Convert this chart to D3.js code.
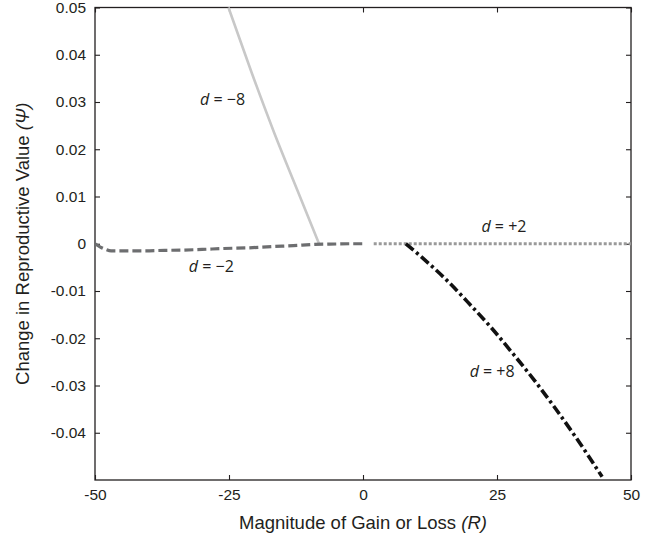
<!DOCTYPE html>
<html><head><meta charset="utf-8">
<script src="https://cdn.jsdelivr.net/npm/d3@7"></script>
<style>body{margin:0;background:#fff}svg{display:block}</style>
</head><body>
<svg id="chart" width="654" height="536"></svg>
<script>
const xTicks = [-50, -25, 0, 25, 50];
const yTicks = [0.05, 0.04, 0.03, 0.02, 0.01, 0, -0.01, -0.02, -0.03, -0.04];

const seriesM8R = [-25.1, -20.8, -16.5, -12.3, -8.2];
const seriesM8V = [0.05, 0.0363, 0.0233, 0.0115, 0];

const seriesM2R = [-50, -49, -48, -47, -44, -41, -37, -34, -30, -26, -21.5, -17, -13, -9.2, -5, -2.3, 0];
const seriesM2V = [0, -0.0007, -0.0012, -0.0015, -0.0015, -0.0015, -0.0014, -0.00135, -0.0012, -0.001, -0.00087, -0.0006, -0.0004, -0.00015, -0.00005, 0, 0];

const seriesP2R = [2, 10, 20, 30, 40, 48, 50];
const seriesP2V = [0, 0, 0, 0, 0, 0, 0];

const seriesP8R = [8, 11, 15.7, 20, 23.8, 28, 31.9, 35.6, 39.3, 42, 44.6];
const seriesP8V = [0, -0.0029, -0.0078, -0.0129, -0.0176, -0.0233, -0.0288, -0.0344, -0.0403, -0.0448, -0.0493];

const labels = [
  {txt: "\u22128", R: -26.2, V: 0.0294},
  {txt: "\u22122", R: -28.3, V: -0.0060},
  {txt: "+2", R: 26.3, V: 0.0025},
  {txt: "+8", R: 24.1, V: -0.0282}
];

const svg = d3.select("#chart");
const L = 95, R = 631, T = 7.5, B = 480;
const x = d3.scaleLinear().domain([-50, 50]).range([L, R]);
const y = d3.scaleLinear().domain([-0.05, 0.05]).range([B, T]);
const axisColor = "#231f20";
const tickFont = "Liberation Sans, Arial, sans-serif";

svg.append("rect").attr("x", L).attr("y", T).attr("width", R - L).attr("height", B - T)
  .attr("fill", "none").attr("stroke", axisColor).attr("stroke-width", 1.3);

const fmtY = d => d === 0 ? "0" : d3.format(".2f")(d).replace("\u2212", "-");

const gB = svg.append("g").attr("transform", `translate(0,${B})`)
  .call(d3.axisBottom(x).tickValues(xTicks).tickSizeInner(-5).tickSizeOuter(0).tickPadding(9).tickFormat(d => String(d)));
const gT = svg.append("g").attr("transform", `translate(0,${T})`)
  .call(d3.axisTop(x).tickValues(xTicks).tickSizeInner(-5).tickSizeOuter(0).tickFormat(""));
const gL = svg.append("g").attr("transform", `translate(${L},0)`)
  .call(d3.axisLeft(y).tickValues(yTicks).tickSizeInner(-5).tickSizeOuter(0).tickPadding(9).tickFormat(fmtY));
const gR = svg.append("g").attr("transform", `translate(${R},0)`)
  .call(d3.axisRight(y).tickValues(yTicks).tickSizeInner(-5).tickSizeOuter(0).tickFormat(""));
[gB, gT, gL, gR].forEach(g => {
  g.select(".domain").remove();
  g.selectAll(".tick line").attr("stroke", axisColor).attr("stroke-width", 1.1);
  g.selectAll(".tick text").attr("fill", "#231f20").style("font-family", tickFont).style("font-size", "15.5px");
});

const zip = (a, b) => a.map((v, i) => [v, b[i]]);
const line = d3.line().x(d => x(d[0])).y(d => y(d[1])).curve(d3.curveMonotoneX);

svg.append("path").datum(zip(seriesM8R, seriesM8V)).attr("d", line)
  .attr("fill", "none").attr("stroke", "#c8c8c8").attr("stroke-width", 2.6);
svg.append("path").datum(zip(seriesM2R, seriesM2V)).attr("d", line)
  .attr("fill", "none").attr("stroke", "#6d6e70").attr("stroke-width", 3.2).attr("stroke-dasharray", "9,4");
svg.append("path").datum(zip(seriesP2R, seriesP2V)).attr("d", line)
  .attr("fill", "none").attr("stroke", "#9a9a9a").attr("stroke-width", 3).attr("stroke-dasharray", "3,2");
svg.append("path").datum(zip(seriesP8R, seriesP8V)).attr("d", line)
  .attr("fill", "none").attr("stroke", "#111").attr("stroke-width", 3.6).attr("stroke-dasharray", "10,3.5,3,3.5");

labels.forEach(l => {
  const t = svg.append("text").attr("x", x(l.R)).attr("y", y(l.V)).attr("text-anchor", "middle")
    .style("font-family", "Open Sans, Noto Sans, sans-serif").style("font-size", "16px").attr("fill", "#231f20");
  t.append("tspan").attr("font-style", "italic").text("d");
  t.append("tspan").text(" = " + l.txt);
});

const xt = svg.append("text").attr("x", (L + R) / 2).attr("y", 529).attr("text-anchor", "middle")
  .style("font-family", tickFont).style("font-size", "18.5px").attr("fill", "#231f20");
xt.append("tspan").text("Magnitude of Gain or Loss ");
xt.append("tspan").attr("font-style", "italic").text("(R)");

const yt = svg.append("text").attr("transform", `translate(29,${(T + B) / 2}) rotate(-90)`).attr("text-anchor", "middle")
  .style("font-family", tickFont).style("font-size", "18.5px").attr("fill", "#231f20");
yt.append("tspan").text("Change in Reproductive Value ");
yt.append("tspan").attr("font-style", "italic").text("(\u03A8)");
</script>
</body></html>
